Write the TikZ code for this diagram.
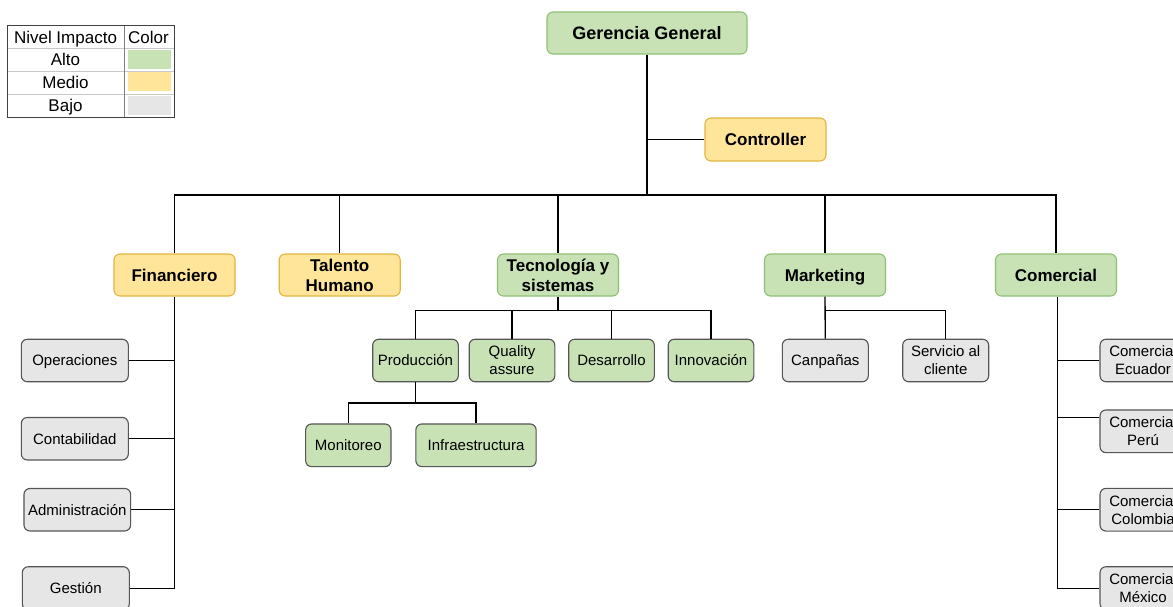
\documentclass[tikz,border=0pt]{standalone}
\usepackage{fontspec}
\setmainfont{Liberation Sans}
\begin{document}
\definecolor{greenfill}{HTML}{C8E2B6}
\definecolor{greenline}{HTML}{8FBF76}
\definecolor{yellowfill}{HTML}{FFE59A}
\definecolor{yellowline}{HTML}{E2B440}
\definecolor{grayfill}{HTML}{E6E6E6}
\definecolor{darkline}{HTML}{555555}
\definecolor{gridline}{HTML}{C8C8C8}
\begin{tikzpicture}[x=1pt,y=-1pt,
  box/.style={rounded corners=6pt,line width=1.1pt,inner sep=0pt,align=center,
    font=\fontsize{15}{18}\selectfont},
  head/.style={box,font=\fontsize{17}{20}\selectfont\bfseries},
  % single-line text centred on its capital height
  oneline/.style={text height=#1,text depth=0pt},
  alto/.style={fill=greenfill,draw=greenline},
  medio/.style={fill=yellowfill,draw=yellowline},
  altosub/.style={fill=greenfill,draw=darkline},
  bajo/.style={fill=grayfill,draw=darkline},
  link/.style={line width=1.35pt,black},
  cell/.style={inner sep=0pt,font=\fontsize{17}{20}\selectfont,oneline=12.2pt}]
\useasboundingbox (0,0) rectangle (1173,606);
\fill[white] (0,0) rectangle (1173,606);
\clip (0,0) rectangle (1173,606);

% legend table
\draw[gridline,line width=0.8pt] (7,48.5) -- (174,48.5) (7,71) -- (174,71) (7,94) -- (174,94);
\draw[gray,line width=0.8pt] (124,25) -- (124,117);
\draw[black!75,line width=1pt] (7,25) rectangle (174,117);
\node[cell] (lh1) at (65.5,37) {Nivel Impacto};
\node[cell] (lh2) at (148.5,37) {Color};
\node[cell] (lalto) at (65.5,59.5) {Alto};
\node[cell] (lmedio) at (65.5,82.5) {Medio};
\node[cell] (lbajo) at (65.5,105) {Bajo};
\fill[greenfill] (128,49.5) rectangle (171,69);
\fill[yellowfill] (128,72) rectangle (171,91);
\fill[grayfill] (128,95.5) rectangle (171,114.5);

% top levels
\node[head,alto,oneline=12.9pt,font=\fontsize{18}{21}\selectfont\bfseries,minimum width=200pt,minimum height=42pt] (gg) at (647,33) {Gerencia General};
\node[head,medio,oneline=12.2pt,minimum width=121pt,minimum height=43pt] (ctrl) at (765.5,139.5) {Controller};

\node[head,medio,oneline=12.2pt,minimum width=121pt,minimum height=42pt] (fin) at (174.5,275) {Financiero};
\node[head,medio,minimum width=121pt,minimum height=42pt] (th) at (339.7,275) {Talento\\Humano};
\node[head,alto,minimum width=121pt,minimum height=42pt] (tec) at (558,275) {Tecnología y\\sistemas};
\node[head,alto,oneline=12.2pt,minimum width=121pt,minimum height=42pt] (mkt) at (825,275) {Marketing};
\node[head,alto,oneline=12.2pt,minimum width=121pt,minimum height=42pt] (com) at (1056,275) {Comercial};

% Financiero
\node[box,bajo,oneline=10.7pt,minimum width=107pt,minimum height=42.5pt] (ope) at (74.8,360.5) {Operaciones};
\node[box,bajo,oneline=10.7pt,minimum width=107pt,minimum height=42.5pt] (cont) at (74.8,438.7) {Contabilidad};
\node[box,bajo,oneline=10.7pt,minimum width=106.7pt,minimum height=42.5pt] (adm) at (77.3,509.7) {Administración};
\node[box,bajo,oneline=10.7pt,minimum width=107pt,minimum height=43pt] (ges) at (75.8,588.2) {Gestión};

% Tecnología y sistemas
\node[box,altosub,oneline=10.7pt,minimum width=85.6pt,minimum height=42.5pt] (prod) at (415.5,360.5) {Producción};
\node[box,altosub,minimum width=85.6pt,minimum height=42.5pt] (qa) at (512,360.5) {Quality\\assure};
\node[box,altosub,oneline=10.7pt,minimum width=85.6pt,minimum height=42.5pt] (des) at (611.5,360.5) {Desarrollo};
\node[box,altosub,oneline=10.7pt,minimum width=85.6pt,minimum height=42.5pt] (inn) at (711,360.5) {Innovación};
\node[box,altosub,oneline=10.7pt,minimum width=85.3pt,minimum height=42.7pt] (mon) at (348.3,445.3) {Monitoreo};
\node[box,altosub,oneline=10.7pt,minimum width=120.3pt,minimum height=42.7pt] (inf) at (476,445.3) {Infraestructura};

% Marketing
\node[box,bajo,oneline=10.7pt,minimum width=86pt,minimum height=42.5pt] (camp) at (825.3,360.5) {Canpañas};
\node[box,bajo,minimum width=86pt,minimum height=42.5pt] (serv) at (945.7,360.5) {Servicio al\\cliente};

% Comercial
\node[box,bajo,minimum width=86pt,minimum height=42.5pt] (cec) at (1143,360.5) {Comercial\\Ecuador};
\node[box,bajo,minimum width=86pt,minimum height=42.7pt] (cpe) at (1143,431.3) {Comercial\\Perú};
\node[box,bajo,minimum width=86pt,minimum height=42.7pt] (cco) at (1143,509.7) {Comercial\\Colombia};
\node[box,bajo,minimum width=86pt,minimum height=43pt] (cmx) at (1143,588.2) {Comercial\\México};

% bus coordinates
\coordinate (bus) at (647,195);
\coordinate (tbus) at (558,310.7);
\coordinate (pbus) at (415.5,403);
\coordinate (mbus) at (825,310.7);
\coordinate (cspine) at ([xshift=1.3pt]com.south);
\coordinate (peru) at ([yshift=13.5pt]cpe.west);

% connectors
\draw[link] (gg.south) -- (bus);
\draw[link] (ctrl.west) -- (ctrl.west -| gg.south);
\draw[link] (fin.north) |- (bus) -| (com.north);
\draw[link] (th.north) -- (th.north |- bus);
\draw[link] (tec.north) -- (tec.north |- bus);
\draw[link] (mkt.north) -- (mkt.north |- bus);

\draw[link] (fin.south) -- (fin.south |- ges.east);
\draw[link] (ope.east) -- (ope.east -| fin.south);
\draw[link] (cont.east) -- (cont.east -| fin.south);
\draw[link] (adm.east) -- (adm.east -| fin.south);
\draw[link] (ges.east) -- (ges.east -| fin.south);

\draw[link] (tec.south) -- (tbus);
\draw[link] (prod.north) |- (tbus) -| (inn.north);
\draw[link] (qa.north) -- (qa.north |- tbus);
\draw[link] (des.north) -- (des.north |- tbus);
\draw[link] (prod.south) -- (pbus);
\draw[link] (mon.north) |- (pbus) -| (inf.north);

\draw[link] (mkt.south) -- (camp.north);
\draw[link] (mbus) -| (serv.north);

\draw[link] (cspine) -- (cspine |- cmx.west);
\draw[link] (cec.west) -- (cec.west -| cspine);
\draw[link] (peru) -- (peru -| cspine);
\draw[link] (cco.west) -- (cco.west -| cspine);
\draw[link] (cmx.west) -- (cmx.west -| cspine);
\end{tikzpicture}
\end{document}
